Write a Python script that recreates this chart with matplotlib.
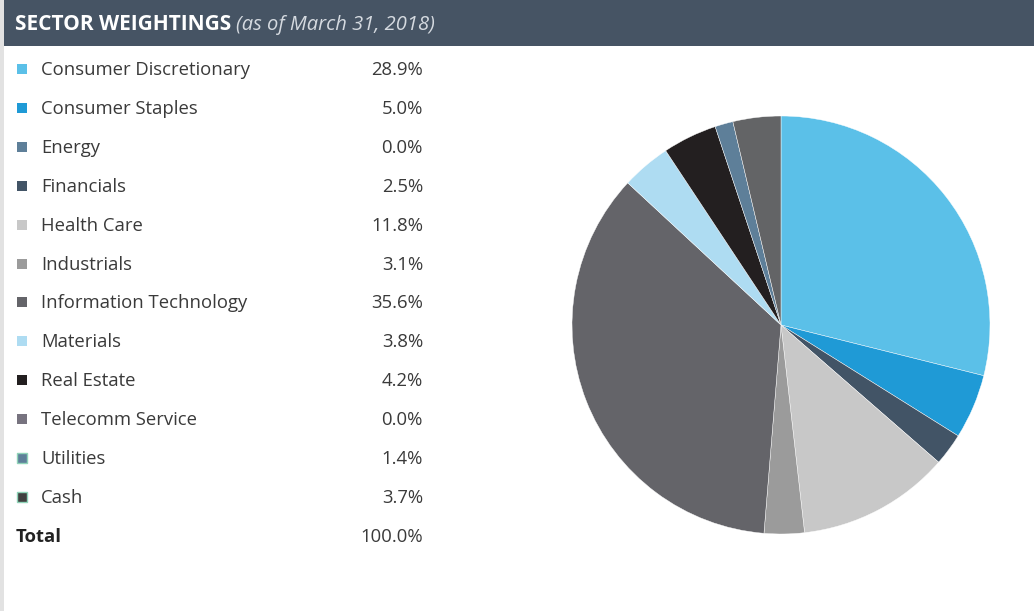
import matplotlib.pyplot as plt
from matplotlib.patches import Rectangle

# Sector data (as of March 31, 2018)
sectors = ['Consumer Discretionary', 'Consumer Staples', 'Energy', 'Financials',
           'Health Care', 'Industrials', 'Information Technology', 'Materials',
           'Real Estate', 'Telecomm Service', 'Utilities', 'Cash']
weights = [28.9, 5.0, 0.0, 2.5, 11.8, 3.1, 35.6, 3.8, 4.2, 0.0, 1.4, 3.7]
colors = ['#5bc0e8', '#1f9ad6', '#5e7f99', '#425466', '#c8c8c8', '#9b9b9b',
          '#646469', '#aedcf2', '#231f20', '#77737f', '#5e7f99', '#636466']
legend_colors = ['#5bc0e8', '#1f9ad6', '#5e7f99', '#425466', '#c8c8c8', '#9b9b9b',
                 '#646469', '#aedcf2', '#231f20', '#77737f', '#5e7f99', '#404040']
legend_edges = [None] * 10 + ['#8fd3b8', '#8fd3b8']
total_label = '100.0%'

plt.rcParams['font.family'] = ['Open Sans', 'DejaVu Sans']

W, H = 1034, 611
fig = plt.figure(figsize=(W / 100, H / 100), dpi=100)

# pixel-space axes for the table part
ax = fig.add_axes([0, 0, 1, 1])
ax.set_xlim(0, W)
ax.set_ylim(H, 0)
ax.axis('off')

# left grey strip and header bar
ax.add_patch(Rectangle((0, 0), 4, H, color='#e2e2e2', lw=0))
ax.add_patch(Rectangle((4, 0), W - 4, 46, color='#465464', lw=0))
t = ax.text(15, 25, 'SECTOR WEIGHTINGS', color='white', fontsize=15,
            fontweight='bold', va='center', ha='left')
fig.canvas.draw()
bb = t.get_window_extent()
ax.text(bb.x1 + 5, 25, '(as of March 31, 2018)', color='#d5dae0', fontsize=14.5,
        fontstyle='italic', va='center', ha='left')

# legend rows
y0, dy = 70, 38.9
for i, (name, w) in enumerate(zip(sectors, weights)):
    y = y0 + i * dy
    ec = legend_edges[i]
    ax.add_patch(Rectangle((17, y - 6), 10, 10, facecolor=legend_colors[i],
                           edgecolor=ec if ec else legend_colors[i], lw=1 if ec else 0))
    ax.text(41, y, name, color='#3a3a3a', fontsize=13.3, va='center', ha='left')
    ax.text(423, y, f'{w:.1f}%', color='#3a3a3a', fontsize=13.3, va='center', ha='right')

y = y0 + len(sectors) * dy
ax.text(16, y, 'Total', color='#222222', fontsize=13.3, fontweight='bold', va='center', ha='left')
ax.text(423, y, total_label, color='#3a3a3a', fontsize=13.3, va='center', ha='right')

# pie chart, clockwise from 12 o'clock, zero slices dropped
cx, cy, r = 781, 325, 209
pax = fig.add_axes([(cx - r) / W, (H - cy - r) / H, 2 * r / W, 2 * r / H])
vals = [w for w in weights if w > 0]
cols = [c for w, c in zip(weights, colors) if w > 0]
pax.pie(vals, colors=cols, startangle=90, counterclock=False, radius=1,
        wedgeprops=dict(edgecolor='white', linewidth=0.3))
pax.set_xlim(-1, 1)
pax.set_ylim(-1, 1)
pax.set_aspect('equal')
pax.axis('off')

fig.savefig('out.png', dpi=100)
